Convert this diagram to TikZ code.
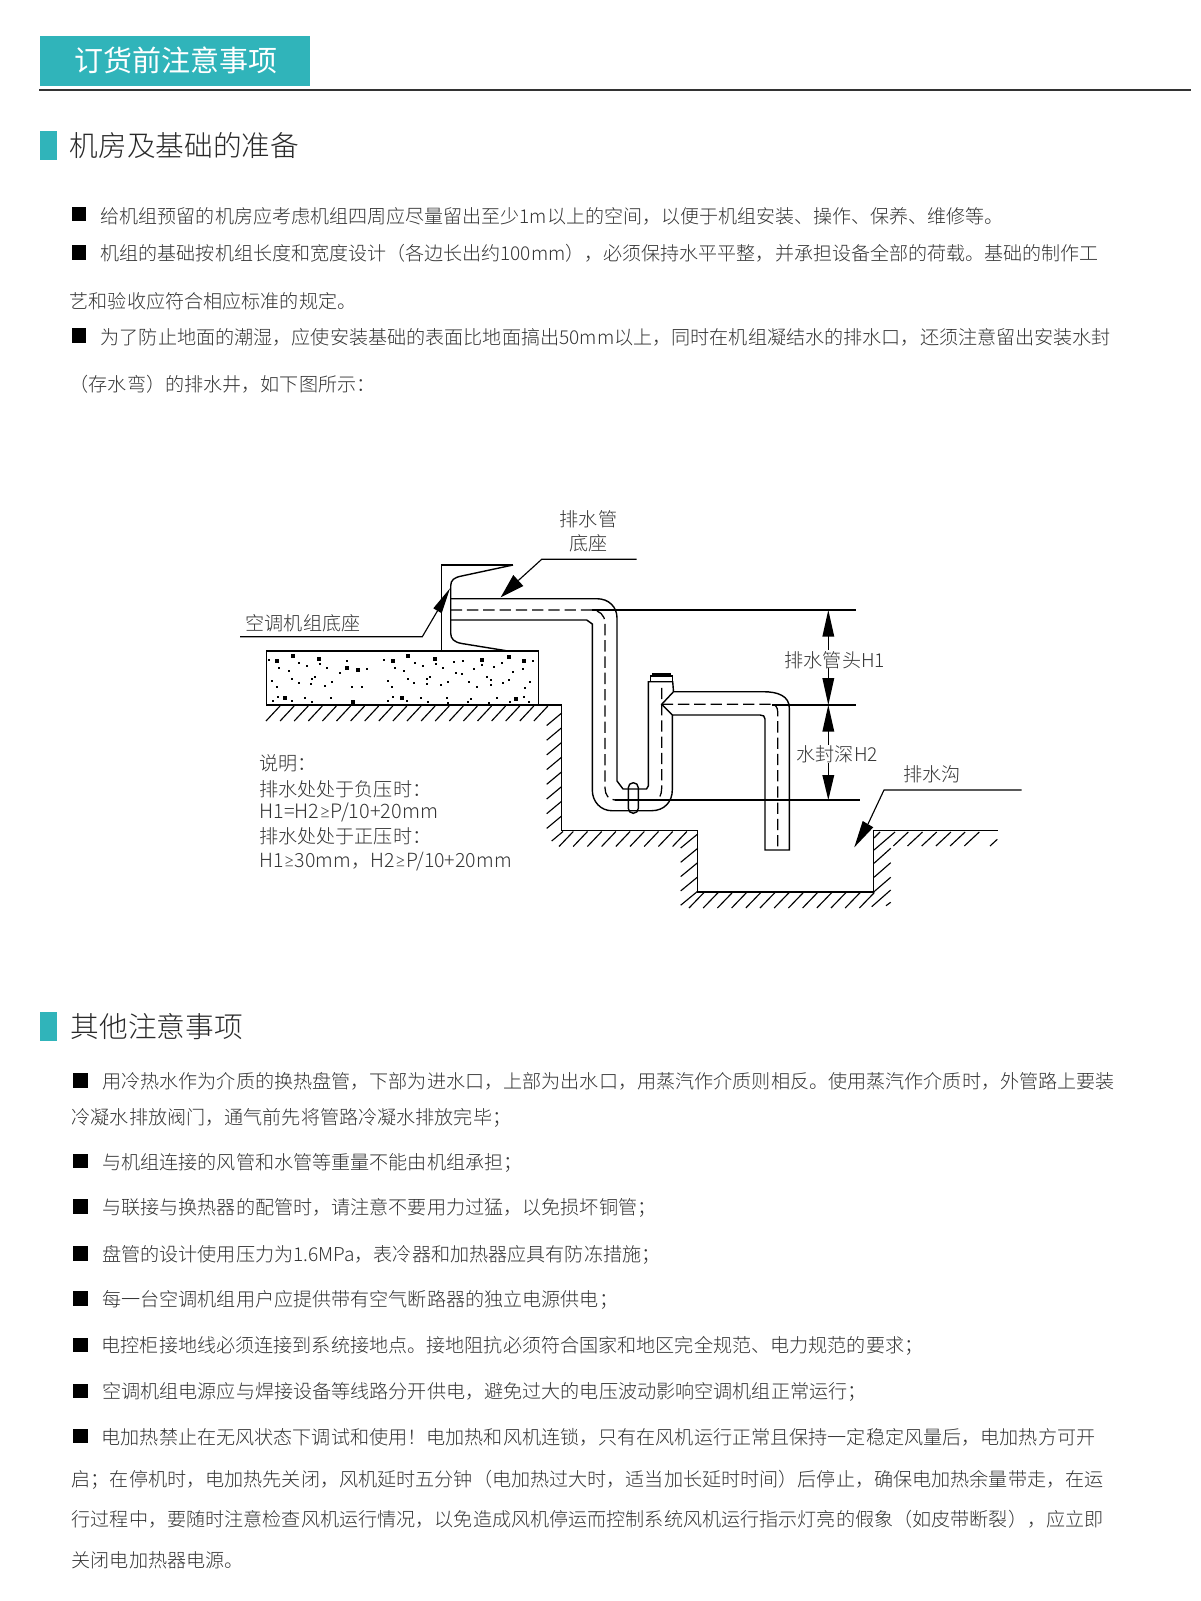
\documentclass[tikz,border=0pt]{standalone}
\usepackage{fontspec}
\setmainfont{Noto Sans CJK SC Light}
\newfontfamily\cjkreg{Noto Sans CJK SC}
\newfontfamily\latlight{Lato Light}
\newcommand{\gesign}{{\latlight ≥}}
\definecolor{teal1}{HTML}{30B4BA}
\definecolor{ink}{HTML}{333333}
\tikzset{
  body/.style={anchor=base west,inner sep=0pt,text=ink,font=\fontsize{14.33pt}{14.33pt}\selectfont},
  bodytight/.style={body,font=\fontsize{14.28pt}{14.28pt}\selectfont},
  bodyc/.style={body,anchor=base},
  note/.style={body,font=\fontsize{14.9pt}{14.9pt}\selectfont},
  notetight/.style={body,font=\fontsize{14.65pt}{14.65pt}\selectfont},
  head/.style={anchor=base west,inner sep=0pt,text=ink!80!black,font=\fontsize{21.5pt}{21.5pt}\selectfont},
  bullet/.style={fill=black,inner sep=0pt,minimum width=10.9pt,minimum height=10.9pt},
  bar/.style={fill=teal1,inner sep=0pt,anchor=north west,minimum width=13pt,minimum height=21.75pt},
  pipe/.style={draw=black,line width=1.05pt,line join=miter},
  center line/.style={draw=black,line width=.95pt,dash pattern=on 8.5pt off 3.7pt},
  thin/.style={draw=black,line width=.85pt},
  hatch/.style={draw=black,line width=.85pt},
  tip/.style={fill=black}
}
\begin{document}
\begin{tikzpicture}[x=.75pt,y=-.75pt]
\useasboundingbox (0,0) rectangle (1200,1601);
% header
\node[fill=teal1,anchor=north west,inner sep=0pt,minimum width=202.5pt,minimum height=37.5pt] (banner) at (39.3,36) {};
\node[anchor=base west,inner sep=0pt,text=white,font=\cjkreg\fontsize{21.75pt}{21.75pt}\selectfont] (title) at (74,72) {订货前注意事项};
\draw[draw=ink,line width=.95pt] (39,90) -- (1190.5,90);
% section 1
\node[bar] (bar1) at (39.3,131) {};
\node[head] (h1) at (69.5,156.7) {机房及基础的准备};
\node[bullet] (b1) at (79,214) {};
\node[bullet] (b2) at (79,252.7) {};
\node[bullet] (b3) at (79,335.7) {};
\node[bodytight] (p1) at (100.5,223.2) {给机组预留的机房应考虑机组四周应尽量留出至少1m以上的空间，以便于机组安装、操作、保养、维修等。};
\node[bodytight] (p2) at (100.5,260.5) {机组的基础按机组长度和宽度设计（各边长出约100mm），必须保持水平平整，并承担设备全部的荷载。基础的制作工};
\node[body] (p3) at (69.5,308.9) {艺和验收应符合相应标准的规定。};
\node[body] (p4) at (100.5,344.9) {为了防止地面的潮湿，应使安装基础的表面比地面搞出50mm以上，同时在机组凝结水的排水口，还须注意留出安装水封};
\node[body] (p5) at (69.5,391.2) {（存水弯）的排水井，如下图所示：};
% concrete
\draw[pipe] (266.7,651) rectangle (538.3,705);
\foreach \X/\Y in {118/480,148/505,208/488,232/498,177/512,270/493,292/505,352/483,410/507,330/518,255/530,245/538,244/553,187/537,206/548,125/542,140/562,285/557,307/545,365/562,397/562,145/590,128/603,185/603,224/594,247/607,304/595,463/480,555/488,580/498,618/492,640/505,495/505,523/512,677/518,695/521,673/485,700/483,733/507,755/495,793/500,817/490,878/507,908/483,850/515,600/530,592/538,591/552,535/537,552/548,473/542,487/562,632/555,655/545,717/547,740/560,772/532,782/540,782/555,820/550,838/541,899/545,885/565,490/590,532/603,475/603,572/594,595/607,652/595,655/610,715/607,722/597,778/608,800/595,840/605,882/590,897/605}
  \fill ({230+\X/3-1.1},{500+\Y/3-1.1}) rectangle ++(2.2,2.2);
\foreach \X/\Y in {142/482,188/468,268/478,350/505,385/510,165/595,368/607,490/482,535/468,616/478,755/480,883/484,838/470,515/595,858/598}
  \fill ({230+\X/3-1.9},{500+\Y/3-1.9}) rectangle ++(3.8,3.8);
% ground outline
\draw[pipe] (266,705) -- (561.7,705) -- (561.7,830.7) -- (697.7,830.7) -- (697.7,892) -- (873.3,892) -- (873.3,830.7) -- (997.5,830.7);
% hatching
\foreach \x in {280,294.1,...,552}
  \draw[hatch] (\x,706) -- ++(-14,15);
\foreach \y in {713,727.7,...,825}
  \draw[hatch] (561.7,\y) -- ++(-15,12.5);
\draw[hatch] (563,831.5) -- (551.7,841);
\foreach \x in {573.3,587.5,...,688}
  \draw[hatch] (\x,831.5) -- ++(-14.3,15);
\foreach \y in {834,848.3,...,892}
  \draw[hatch] (697.7,\y) -- ++(-17,14);
\foreach \x in {704,718.2,...,875}
  \draw[hatch] (\x,892.5) -- ++(-15,15.5);
\draw[hatch] (890.7,848.3) -- (874,863.3);
\draw[hatch] (890.7,862.7) -- (874,877.3);
\draw[hatch] (890.7,877.3) -- (874,891.7);
\draw[hatch] (890.7,890) -- (871.7,906.7);
\draw[hatch] (890.7,902.3) -- (886,905.7);
\draw[hatch] (880,832) -- (874,838);
\draw[hatch] (895,832) -- (874,850);
\foreach \x in {908.3,922.5,...,993}
  \draw[hatch] (\x,832) -- ++(-15,14);
\draw[hatch] (997.3,839.3) -- (990,846);
% unit base frame
\draw[pipe] (513,565) -- (441.7,565) -- (441.7,651);
\draw[pipe] (513,565) -- (461.7,576) .. controls (454,577.5) and (450.7,580) .. (450.7,586) -- (450.7,633) .. controls (450.7,639) and (454,642) .. (461.7,643.5) -- (508,651);
% drain pipe
\draw[pipe] (450.7,598.7) -- (596.7,598.7) .. controls (609,598.7) and (617,607) .. (617,618) -- (617,781) -- (623,789) -- (646.5,789) -- (648.3,786) -- (648.3,681.7) -- (672.7,681.7) -- (673.5,691.7);
\draw[pipe] (450.7,620) -- (586.7,620) -- (592.3,624) -- (592.3,790) .. controls (592.3,802) and (601,810.7) .. (611.7,810.7) -- (651.7,810.7) .. controls (664,810.7) and (672.3,802) .. (672.3,790) -- (672.3,715) -- (661.7,704.3) -- (673.5,691.7) -- (763,691.7) .. controls (778,691.7) and (789.3,696) .. (789.3,708) -- (789.3,850) -- (765,850) -- (765,719) .. controls (765,716) and (763,715) .. (760,715) -- (672.3,715);
\draw[pipe] (650.7,681.7) -- (650.7,676) -- (672.7,676) -- (672.7,681.7);
\fill (651.7,672.7) rectangle (671,676);
\draw[pipe,rounded corners=3.7pt] (628.3,782.7) rectangle (638.3,813.3);
% centre lines
\draw[center line] (450.7,610) -- (591.7,610) .. controls (599,610) and (605,615) .. (605,623) -- (605,788) .. controls (605,795) and (609,800) .. (615,800) -- (655,800) .. controls (659,800) and (661.7,795) .. (661.7,788) -- (661.7,685);
\draw[center line] (661.7,704.3) -- (771.7,704.3) .. controls (775,704.3) and (777.7,707) .. (777.7,711.7) -- (777.7,850);
% level lines
\draw[thin] (591.7,610) -- (856,610);
\draw[thin] (771.7,705) -- (856,705);
\draw[thin] (615,800) -- (860,800);
% dimension arrows
\draw[thin] (828.3,636) -- (828.3,650);
\draw[thin] (828.3,668) -- (828.3,680);
\draw[thin] (828.3,730) -- (828.3,745);
\draw[thin] (828.3,763) -- (828.3,776);
\fill[tip] (828.3,610) -- (834.3,636.7) -- (822.3,636.7) -- cycle;
\fill[tip] (828.3,705) -- (834.3,678) -- (822.3,678) -- cycle;
\fill[tip] (828.3,705) -- (834.3,731.7) -- (822.3,731.7) -- cycle;
\fill[tip] (828.3,800) -- (834.3,775) -- (822.3,775) -- cycle;
% leaders
\draw[thin] (636.7,559.3) -- (541.7,559.3) -- (518.3,580.5);
\fill[tip] (500.7,597.3) -- (513.3,575) -- (523.3,586) -- cycle;
\draw[thin] (240,636.7) -- (422.3,636.7) -- (437.5,610.8);
\fill[tip] (450,588.3) -- (433.3,608.3) -- (441.7,613.3) -- cycle;
\draw[thin] (1021.7,790) -- (884,790) -- (868,824);
\fill[tip] (854.3,847.3) -- (862.7,821) -- (873.3,827.3) -- cycle;
% diagram labels
\node[bodyc] (l1) at (588.5,526.2) {排水管};
\node[bodyc] (l2) at (588.5,550.5) {底座};
\node[body] (l3) at (245.5,630.5) {空调机组底座};
\node[body] (l4) at (784.5,667.2) {排水管头H1};
\node[body] (l5) at (796.5,761.5) {水封深H2};
\node[body] (l6) at (903,781) {排水沟};
\node[body] (n1) at (259,770.5) {说明：};
\node[body] (n2) at (259,796.2) {排水处处于负压时：};
\node[note] (n3) at (259,818.9) {H1=H2\gesign P/10+20mm};
\node[body] (n4) at (259,843.9) {排水处处于正压时：};
\node[notetight] (n5) at (259,867.2) {H1\gesign 30mm，H2\gesign P/10+20mm};
% section 2
\node[bar] (bar2) at (39.3,1011.7) {};
\node[head] (h2) at (70.5,1037.7) {其他注意事项};
\node[bullet] (c1) at (80.5,1080.3) {};
\node[bullet] (c2) at (80.5,1161) {};
\node[bullet] (c3) at (80.5,1206.7) {};
\node[bullet] (c4) at (80.5,1253.3) {};
\node[bullet] (c5) at (80.5,1298.7) {};
\node[bullet] (c6) at (80.5,1345) {};
\node[bullet] (c7) at (80.5,1391) {};
\node[bullet] (c8) at (80.5,1436) {};
\node[body] (q1) at (102,1088.9) {用冷热水作为介质的换热盘管，下部为进水口，上部为出水口，用蒸汽作介质则相反。使用蒸汽作介质时，外管路上要装};
\node[body] (q1b) at (71.5,1124.9) {冷凝水排放阀门，通气前先将管路冷凝水排放完毕；};
\node[body] (q2) at (102,1169.5) {与机组连接的风管和水管等重量不能由机组承担；};
\node[body] (q3) at (102,1214.9) {与联接与换热器的配管时，请注意不要用力过猛，以免损坏铜管；};
\node[body] (q4) at (102,1261.5) {盘管的设计使用压力为1.6MPa，表冷器和加热器应具有防冻措施；};
\node[body] (q5) at (102,1306.5) {每一台空调机组用户应提供带有空气断路器的独立电源供电；};
\node[body] (q6) at (101.5,1352.9) {电控柜接地线必须连接到系统接地点。接地阻抗必须符合国家和地区完全规范、电力规范的要求；};
\node[body] (q7) at (102,1398.9) {空调机组电源应与焊接设备等线路分开供电，避免过大的电压波动影响空调机组正常运行；};
\node[body] (q8) at (101.5,1444.9) {电加热禁止在无风状态下调试和使用！电加热和风机连锁，只有在风机运行正常且保持一定稳定风量后，电加热方可开};
\node[body] (q8b) at (71.5,1486.2) {启；在停机时，电加热先关闭，风机延时五分钟（电加热过大时，适当加长延时时间）后停止，确保电加热余量带走，在运};
\node[body] (q8c) at (71.5,1526.5) {行过程中，要随时注意检查风机运行情况，以免造成风机停运而控制系统风机运行指示灯亮的假象（如皮带断裂），应立即};
\node[body] (q8d) at (71.5,1567.5) {关闭电加热器电源。};
\end{tikzpicture}
\end{document}
